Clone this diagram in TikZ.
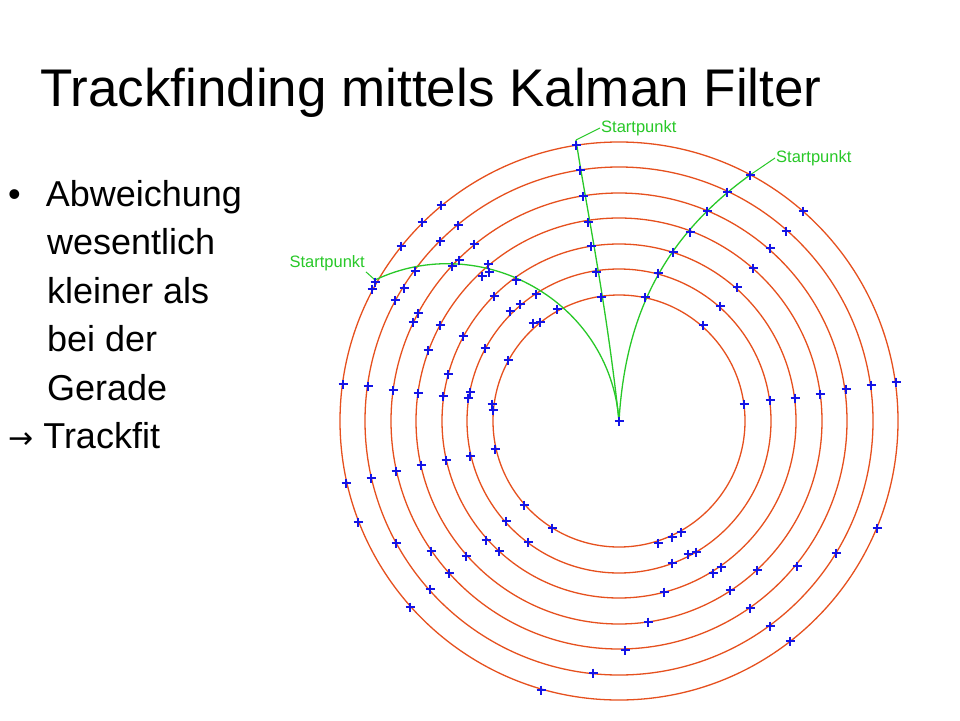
\documentclass[tikz,border=0pt]{standalone}
\usepackage{fontspec}
\setmainfont{Liberation Sans}
\definecolor{ringred}{RGB}{230,80,30}
\definecolor{trackgreen}{RGB}{40,200,40}
\definecolor{hitblue}{RGB}{20,20,230}
\tikzset{
  ring/.style={draw=ringred, line width=1.3pt},
  track/.style={draw=trackgreen, line width=1.3pt},
  hit/.style={hitblue, line width=1.3pt},
  startlabel/.style={text=trackgreen, font=\fontsize{16.5}{18}\selectfont, inner sep=1pt}
}
\begin{document}
\begin{tikzpicture}[x=1pt,y=-1pt]
\useasboundingbox[fill=white] (0,0) rectangle (960,720);
% Title and text
\node[anchor=base west, inner sep=0pt, font=\fontsize{53}{56}\selectfont] (title) at (40,106) {Trackfinding mittels Kalman Filter};
\node[anchor=north west, inner sep=0pt, align=left, font=\fontsize{36}{48.5}\selectfont] (bullets) at (8,180)
  {\textbullet\hspace*{25pt}Abweichung\\ \hspace*{39pt}wesentlich\\ \hspace*{39pt}kleiner als\\ \hspace*{39pt}bei der\\ \hspace*{39pt}Gerade\\ {\fontspec{DejaVu Sans}\fontsize{30}{48.5}\selectfont →} Trackfit};
% Rings
\coordinate (c) at (619,421);
\foreach \r in {126,152,177,203,228,254,279}
  \draw[ring] (c) circle (\r);
% Tracks
\coordinate (s1) at (576,140);
\coordinate (s2) at (750,175);
\coordinate (s3) at (375,280);
\draw[track] (c) .. controls (606,300) and (585,200) .. (s1);
\draw[track] (c) .. controls (625,320) and (660,240) .. (s2);
\draw[track] (c) .. controls (610,300) and (480,230) .. (s3);
% Labels
\node[startlabel, anchor=west] (l1) at (600,128) {Startpunkt};
\node[startlabel, anchor=west] (l2) at (775,158) {Startpunkt};
\node[startlabel, anchor=east] (l3) at (366,263) {Startpunkt};
\draw[track, line width=1pt] (s1) -- (l1.west);
\draw[track, line width=1pt] (s2) -- (l2.west);
\draw[track, line width=1pt] (s3) -- (l3.south east);
% Hits
\foreach \x/\y in {576/145,580/170,583/196,588/222,591/246,596/272,601/297,
  750/175,727/192,707/211,690/232,673/252,658/273,645/297,
  375/282,415/271,452/266,489/272,516/280,536/294,557/309,
  803/211,786/231,770/248,753/268,737/287,720/306,703/325,441/205,422/222,
  458/225,440/241,401/246,474/244,488/264,459/260,482/276,372/289,395/300,
  404/288,418/313,413/322,440/325,463/336,428/350,485/348,510/311,520/304,
  494/296,533/323,540/322,508/360,448/374,343/384,368/386,393/390,418/393,
  443/396,468/398,470/392,492/404,493/410,495/449,470/456,446/460,421/465,
  396/471,371/478,346/483,358/522,524/505,506/521,552/528,528/542,486/540,
  499/551,466/556,431/551,396/543,449/573,430/589,410/607,619/421,
  744/404,770/400,795/398,820/394,846/389,871/385,896/382,
  658/543,672/537,681/532,672/563,688/554,696/552,713/573,721/567,730/590,
  757/570,797/566,836/553,877/528,664/592,648/622,625/650,593/673,541/690,
  750/608,770/626,790/641}
  \draw[hit] (\x-4.5,\y) -- (\x+4.5,\y) (\x,\y-4.5) -- (\x,\y+4.5);
\end{tikzpicture}
\end{document}
